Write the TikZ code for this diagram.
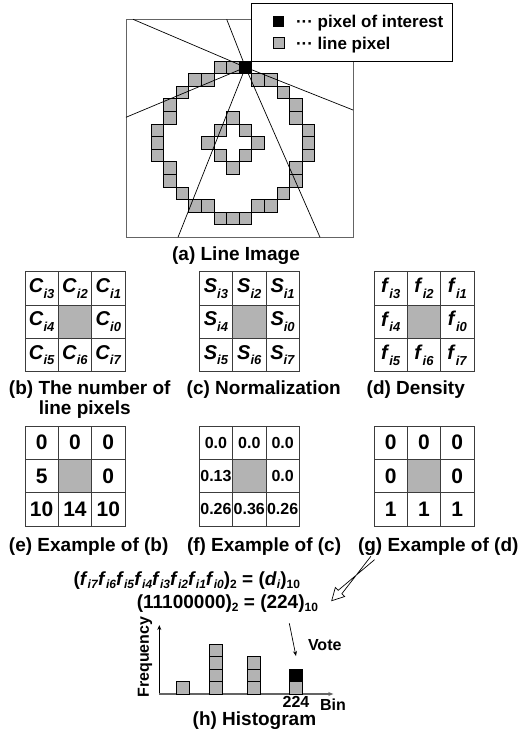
\documentclass[tikz,border=0pt]{standalone}
\usepackage{fontspec}
\setmainfont{Liberation Sans}
\usetikzlibrary{calc,arrows.meta}
\definecolor{cellgray}{RGB}{179,179,179}
\definecolor{boxgray}{RGB}{100,100,100}
\definecolor{linegray}{RGB}{60,60,60}
\newcommand\myfs[1]{\fontsize{#1}{#1}\selectfont}
\newcommand\mysub[1]{\raisebox{-0.35ex}{\myfs{12}#1}}
\newcommand\cellsub[1]{\raisebox{-0.55ex}{\myfs{13}#1}}
\newcommand\cel[2]{\textit{#1}\cellsub{\textit{#2}}}
\newcommand\myfi[1]{\textit{f}\mysub{\textit{i#1}}}
\newcommand\cellfi[1]{\textit{f}\cellsub{\textit{i#1}}}
\tikzset{
  gridline/.style={line width=0.8pt, draw=linegray},
  cellfont/.style={font=\bfseries\myfs{20}},
  numfont/.style={font=\bfseries\myfs{21}},
  smallcell/.style={font=\bfseries\myfs{16}},
  capt/.style={font=\bfseries\myfs{19}, anchor=base west},
  pix/.style={draw, line width=0.7pt, fill=cellgray},
}
\newcommand\mygrid[5]{% x, y, name, style, list
  \fill[cellgray] ({#1+33.33},{#2+33.33}) rectangle +(33.33,33.33);
  \foreach \i in {0,1,2}{\foreach \j in {0,1,2}{\draw[gridline] ({#1+33.33*\i},{#2+33.33*\j}) rectangle +(33.33,33.33);}}
  \foreach \i/\j/\t in {#5}{\node[#4] (#3-\i-\j) at ({#1+16.67+33.33*\i},{#2+16.67+33.33*\j}) {\t};}
}
\begin{document}
\begin{tikzpicture}[x=1pt,y=-1pt, every node/.style={inner sep=0pt, outer sep=0pt}]
\useasboundingbox (0,0) rectangle (527,735);

% (a) line image
\draw[boxgray, line width=1pt] (126,19.3) rectangle (353,237.3);
\foreach \c/\r in {5/0,6/0, 3/1,4/1,8/1,9/1, 2/2,10/2, 1/3,11/3, 1/4,11/4,6/4,
  0/5,12/5,5/5,7/5, 0/6,12/6,4/6,8/6, 0/7,12/7,5/7,7/7, 1/8,11/8,6/8, 1/9,11/9,
  2/10,10/10, 3/11,4/11,8/11,9/11, 5/12,6/12,7/12}
  \draw[pix] ({151+12.6*\c},{61+12.6*\r}) rectangle +(12.6,12.6);
\coordinate (poic) at (245.5,67.3);
\coordinate (la1) at (133,19.3);
\coordinate (la2) at (353,110);
\coordinate (lb1) at (226.7,19.3);
\coordinate (lb2) at (320,237.3);
\coordinate (lc) at (178,237.3);
\coordinate (ld) at (126,117.3);
\foreach \e in {la1,la2,lb1,lb2,lc,ld} \draw[line width=0.7pt] (poic) -- (\e);
\node[fill=black, minimum size=12.6] (poi) at (poic) {};

% legend
\node[draw, fill=white, line width=0.8pt, minimum width=200.3, minimum height=57.7, anchor=north west] (legend) at (251.7,3.3) {};
\node[fill=black, minimum size=11] (lk1) at (278.8,21.3) {};
\node[draw, line width=0.7pt, fill=cellgray, minimum size=11] (lk2) at (278.5,43.2) {};
\node[anchor=base west, font=\bfseries\myfs{17}] (lt1) at (296,27.6) {\char"00B7\char"00B7\char"00B7\ pixel of interest};
\node[anchor=base west, font=\bfseries\myfs{17}] (lt2) at (296,49.3) {\char"00B7\char"00B7\char"00B7\ line pixel};

\node[font=\bfseries\myfs{19}, anchor=base] (capa) at (236,260.7) {(a) Line Image};

% grids b c d
\mygrid{25}{271.7}{gb}{cellfont}{0/0/\cel{C}{i3},1/0/\cel{C}{i2},2/0/\cel{C}{i1},0/1/\cel{C}{i4},2/1/\cel{C}{i0},0/2/\cel{C}{i5},1/2/\cel{C}{i6},2/2/\cel{C}{i7}}
\mygrid{199.3}{271.7}{gc}{cellfont}{0/0/\cel{S}{i3},1/0/\cel{S}{i2},2/0/\cel{S}{i1},0/1/\cel{S}{i4},2/1/\cel{S}{i0},0/2/\cel{S}{i5},1/2/\cel{S}{i6},2/2/\cel{S}{i7}}
\mygrid{374}{271.7}{gd}{cellfont}{0/0/\cellfi{3},1/0/\cellfi{2},2/0/\cellfi{1},0/1/\cellfi{4},2/1/\cellfi{0},0/2/\cellfi{5},1/2/\cellfi{6},2/2/\cellfi{7}}

\node[capt] (capb) at (9,394) {(b) The number of};
\node[capt] (capb2) at (38.8,414) {line pixels};
\node[capt] (capc) at (186.7,394) {(c) Normalization};
\node[capt] (capd) at (366.7,394) {(d) Density};

% grids e f g
\mygrid{25}{426}{ge}{numfont}{0/0/0,1/0/0,2/0/0,0/1/5,2/1/0,0/2/10,1/2/14,2/2/10}
\mygrid{199.3}{426}{gf}{smallcell}{0/0/0.0,1/0/0.0,2/0/0.0,0/1/0.13,2/1/0.0,0/2/0.26,1/2/0.36,2/2/0.26}
\mygrid{374}{426}{gg}{numfont}{0/0/0,1/0/0,2/0/0,0/1/0,2/1/0,0/2/1,1/2/1,2/2/1}

\node[capt] (cape) at (9,551.7) {(e) Example of (b)};
\node[capt] (capf) at (187,551.7) {(f) Example of (c)};
\node[capt] (capg) at (358,551.7) {(g) Example of (d)};

% formula
\node[font=\bfseries\myfs{19}, anchor=base east] (eq1) at (300,585)
  {(\myfi{7}\myfi{6}\myfi{5}\myfi{4}\myfi{3}\myfi{2}\myfi{1}\myfi{0})\mysub{2} = (\textit{d}\mysub{\textit{i}})\mysub{10}};
\node[font=\bfseries\myfs{19}, anchor=base east] (eq2) at (318,608)
  {(11100000)\mysub{2} = (224)\mysub{10}};

% hollow arrow
\coordinate (hs) at (372.7,558);
\coordinate (he) at (331.7,600.7);
\coordinate (hb) at ($(he)!12pt!(hs)$);
\draw[line width=0.7pt, fill=white]
  ($(hs)!2.5pt!90:(he)$) -- ($(hb)!2.5pt!-90:(he)$) -- ($(hb)!6.5pt!-90:(he)$) -- (he)
  -- ($(hb)!6.5pt!90:(he)$) -- ($(hb)!2.5pt!90:(he)$) -- ($(hs)!2.5pt!-90:(he)$);

% histogram
\coordinate (org) at (159.3,694);
\coordinate (yend) at (159.3,625);
\coordinate (xend) at (333.3,694);
\draw[line width=0.8pt, -{Stealth[length=5pt,width=4pt]}] (org) -- (yend);
\draw[boxgray, line width=1.4pt, -{Stealth[length=5pt,width=4pt]}] (org) -- (xend);
\foreach \x/\n in {176/1, 209.3/4, 247.3/3, 289.3/1}
  \foreach \k in {1,...,\n}
    \draw[pix] (\x,{694-12.5*\k}) rectangle +(13.3,12.5);
\node[draw, line width=0.7pt, fill=black, minimum width=13.3, minimum height=12.5, anchor=south west] (vcell) at (289.3,681.5) {};
\node[font=\bfseries\myfs{16}, rotate=90] (freq) at (145,657) {Frequency};
\node[font=\bfseries\myfs{16}, anchor=base west] (vote) at (308,650.5) {Vote};
\coordinate (vs) at (289.3,623.3);
\draw[line width=0.7pt, -{Stealth[length=5pt,width=4pt]}] (vs) -- ($(vcell.north)+(0,-13)$);
\node[font=\bfseries\myfs{16}, anchor=base] (b224) at (296,707.5) {224};
\node[font=\bfseries\myfs{16}, anchor=base west] (bin) at (320,710.7) {Bin};
\node[font=\bfseries\myfs{19}, anchor=base west] (caph) at (192.7,725) {(h) Histogram};
\end{tikzpicture}
\end{document}
